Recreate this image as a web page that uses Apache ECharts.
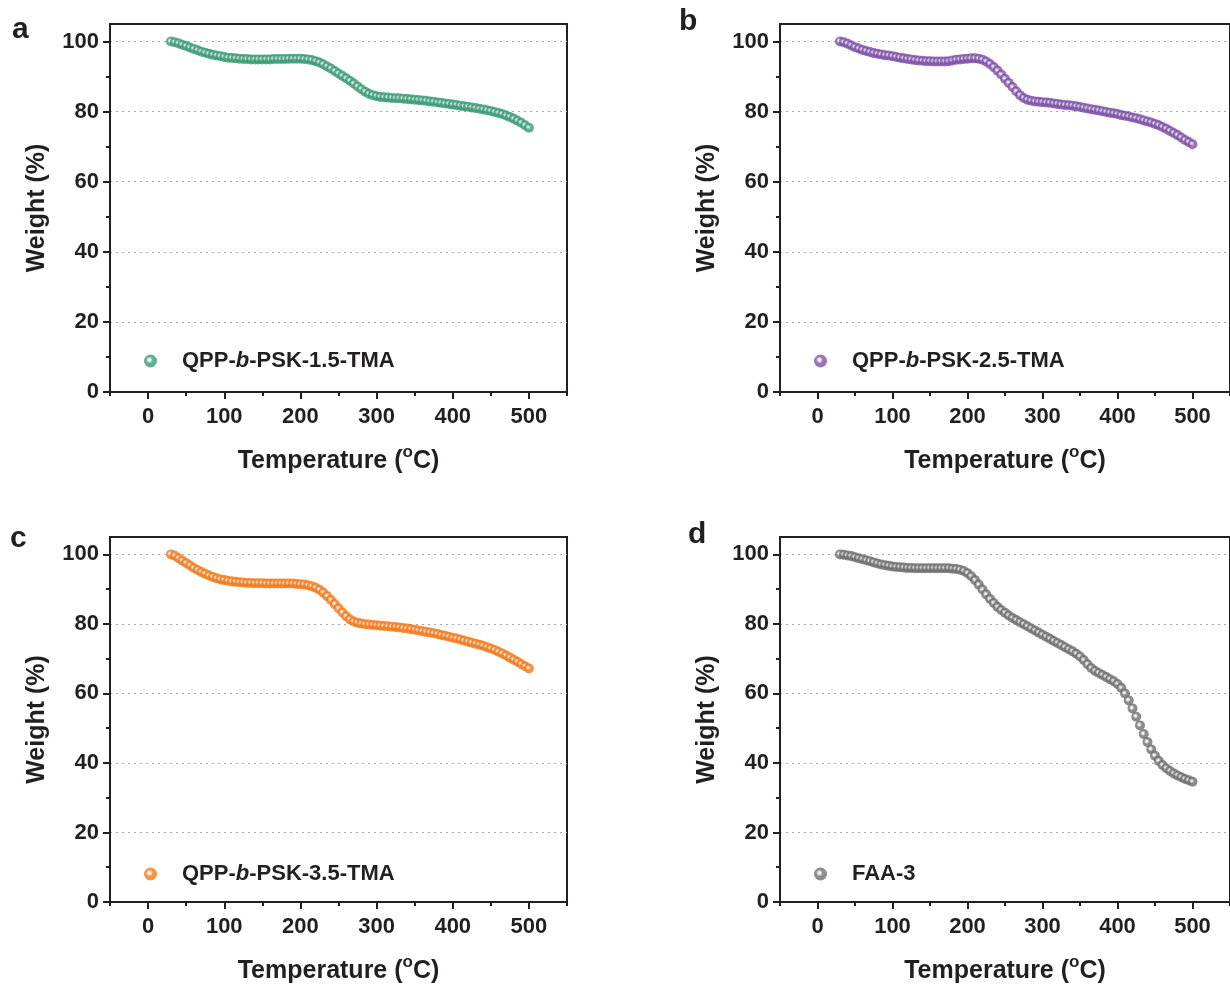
<!DOCTYPE html>
<html>
<head>
<meta charset="utf-8">
<script src="https://cdn.jsdelivr.net/npm/echarts@6/dist/echarts.min.js"></script>
<style>
  html, body { margin: 0; padding: 0; background: #fff; }
  #main { width: 1230px; height: 985px; }
</style>
</head>
<body>
<div id="main"></div>
<script>
// 温度 (°C)
const temps = [
  30, 35, 40, 45, 50, 55, 60, 65, 70, 75, 80, 85, 90, 95, 100, 105, 110, 115, 120, 125,
  130, 135, 140, 145, 150, 155, 160, 165, 170, 175, 180, 185, 190, 195, 200, 205, 210, 215, 220, 225,
  230, 235, 240, 245, 250, 255, 260, 265, 270, 275, 280, 285, 290, 295, 300, 305, 310, 315, 320, 325,
  330, 335, 340, 345, 350, 355, 360, 365, 370, 375, 380, 385, 390, 395, 400, 405, 410, 415, 420, 425,
  430, 435, 440, 445, 450, 455, 460, 465, 470, 475, 480, 485, 490, 495, 500
];

// QPP-b-PSK-1.5-TMA
const weightA = [
  100.0, 99.8, 99.5, 99.1, 98.7, 98.3, 97.9, 97.5, 97.1, 96.8, 96.5, 96.2, 96.0, 95.8, 95.6, 95.4, 95.3, 95.2, 95.1, 95.0,
  95.0, 94.9, 94.9, 94.9, 94.9, 94.9, 94.9, 95.0, 95.0, 95.0, 95.0, 95.1, 95.1, 95.1, 95.1, 95.0, 94.9, 94.7, 94.4, 94.0,
  93.5, 92.9, 92.3, 91.6, 90.9, 90.2, 89.5, 88.8, 88.0, 87.2, 86.4, 85.7, 85.1, 84.7, 84.4, 84.2, 84.1, 84.0, 83.9, 83.8,
  83.8, 83.7, 83.6, 83.5, 83.4, 83.3, 83.2, 83.1, 82.9, 82.8, 82.6, 82.5, 82.3, 82.2, 82.0, 81.9, 81.7, 81.5, 81.4, 81.2,
  81.0, 80.8, 80.6, 80.4, 80.2, 79.9, 79.6, 79.3, 78.9, 78.5, 78.0, 77.4, 76.8, 76.1, 75.4
];

// QPP-b-PSK-2.5-TMA
const weightB = [
  100.0, 99.8, 99.4, 98.9, 98.4, 98.0, 97.6, 97.3, 97.0, 96.7, 96.5, 96.3, 96.1, 96.0, 95.8, 95.6, 95.4, 95.2, 95.0, 94.9,
  94.7, 94.6, 94.5, 94.4, 94.4, 94.3, 94.3, 94.3, 94.3, 94.4, 94.6, 94.8, 94.9, 95.0, 95.1, 95.2, 95.2, 95.1, 94.8, 94.3,
  93.6, 92.7, 91.7, 90.6, 89.4, 88.2, 87.0, 85.8, 84.7, 83.9, 83.4, 83.1, 82.9, 82.8, 82.7, 82.6, 82.5, 82.3, 82.2, 82.0,
  81.9, 81.8, 81.7, 81.5, 81.3, 81.1, 80.9, 80.7, 80.5, 80.3, 80.1, 79.9, 79.7, 79.5, 79.3, 79.0, 78.8, 78.6, 78.3, 78.1,
  77.8, 77.5, 77.2, 76.9, 76.5, 76.1, 75.6, 75.1, 74.5, 73.9, 73.3, 72.6, 71.9, 71.3, 70.7
];

// QPP-b-PSK-3.5-TMA
const weightC = [
  100.0, 99.6, 98.9, 98.2, 97.5, 96.8, 96.1, 95.5, 94.9, 94.4, 93.9, 93.5, 93.1, 92.8, 92.6, 92.4, 92.2, 92.1, 92.0, 91.9,
  91.8, 91.8, 91.7, 91.7, 91.7, 91.6, 91.6, 91.6, 91.6, 91.6, 91.6, 91.6, 91.6, 91.5, 91.4, 91.3, 91.1, 90.8, 90.4, 89.8,
  89.0, 88.0, 86.9, 85.7, 84.5, 83.3, 82.2, 81.3, 80.7, 80.3, 80.1, 79.9, 79.8, 79.7, 79.6, 79.5, 79.4, 79.3, 79.2, 79.1,
  79.0, 78.8, 78.7, 78.5, 78.3, 78.1, 77.9, 77.7, 77.5, 77.3, 77.1, 76.8, 76.6, 76.3, 76.0, 75.8, 75.5, 75.2, 74.9, 74.6,
  74.3, 74.0, 73.7, 73.3, 72.9, 72.5, 72.0, 71.5, 70.9, 70.3, 69.7, 69.1, 68.4, 67.8, 67.2
];

// FAA-3
const weightD = [
  100.0, 99.9, 99.7, 99.5, 99.2, 98.9, 98.6, 98.3, 98.0, 97.7, 97.4, 97.1, 96.9, 96.7, 96.5, 96.4, 96.3, 96.2, 96.1, 96.1,
  96.0, 96.0, 96.0, 96.0, 96.0, 96.0, 96.0, 96.0, 96.0, 96.0, 95.9, 95.8, 95.6, 95.2, 94.6, 93.7, 92.6, 91.3, 89.9, 88.5,
  87.2, 86.0, 84.9, 84.0, 83.2, 82.4, 81.7, 81.1, 80.5, 79.9, 79.3, 78.7, 78.1, 77.5, 76.9, 76.3, 75.7, 75.1, 74.5, 73.9,
  73.3, 72.7, 72.1, 71.4, 70.6, 69.6, 68.4, 67.3, 66.5, 65.9, 65.3, 64.7, 64.1, 63.5, 62.7, 61.6, 60.0, 58.0, 55.7, 53.3,
  50.8, 48.3, 46.0, 43.9, 42.1, 40.6, 39.4, 38.5, 37.7, 37.0, 36.4, 35.9, 35.4, 35.0, 34.6
];

const seriesNames = ['QPP-b-PSK-1.5-TMA', 'QPP-b-PSK-2.5-TMA', 'QPP-b-PSK-3.5-TMA', 'FAA-3'];
const seriesColors = ['#3a9c77', '#7f52a8', '#f27a1a', '#6f6f6f'];
const seriesWeights = [weightA, weightB, weightC, weightD];
const panelLetters = ['a', 'b', 'c', 'd'];

const xMajor = [0, 100, 200, 300, 400, 500];
const xMinor = [-50, 50, 150, 250, 350, 450, 550];
const yMajor = [0, 20, 40, 60, 80, 100];
const yMinor = [10, 30, 50, 70, 90];

const FONT = '"Liberation Sans", Arial, Helvetica, sans-serif';
const INK = '#231f20';

// 四个面板的位置
const panels = [
  { left: 110, top: 24, lx: 12, ly: 15 },
  { left: 780, top: 24, lx: 679, ly: 7 },
  { left: 110, top: 537, lx: 10, ly: 524 },
  { left: 780, top: 537, lx: 688, ly: 520 }
];
const W = 457, H = 368;

var myChart = echarts.init(document.getElementById('main'), null, { renderer: 'canvas' });

function sphere(c) {
  return {
    type: 'radial', x: 0.42, y: 0.42, r: 0.6,
    colorStops: [
      { offset: 0, color: '#ffffff' },
      { offset: 0.15, color: '#f0f0f0' },
      { offset: 0.45, color: c },
      { offset: 1, color: c }
    ]
  };
}

var grids = [], xAxes = [], yAxes = [], series = [], legends = [], graphics = [];

panels.forEach(function (p, i) {
  grids.push({
    left: p.left, top: p.top, width: W, height: H,
    show: true, borderColor: INK, borderWidth: 2, backgroundColor: 'transparent'
  });

  // 主 x 轴
  xAxes.push({
    type: 'value', gridIndex: i, position: 'bottom', min: -50, max: 550, interval: 50,
    name: '{t|Temperature (}{s|o}{t|C)}', nameLocation: 'middle', nameGap: 52,
    nameTextStyle: {
      rich: {
        t: { fontFamily: FONT, fontWeight: 'bold', fontSize: 25, lineHeight: 30, color: INK, verticalAlign: 'bottom' },
        s: { fontFamily: FONT, fontWeight: 'bold', fontSize: 17, lineHeight: 17, color: INK, verticalAlign: 'top' }
      }
    },
    axisLine: { onZero: false, lineStyle: { color: INK, width: 2 } },
    axisTick: { show: true, inside: false, length: 7, customValues: xMajor, lineStyle: { color: INK, width: 2 } },
    axisLabel: { customValues: xMajor, margin: 14, fontFamily: FONT, fontWeight: 'bold', fontSize: 22, color: INK },
    splitLine: { show: false }
  });
  // 次刻度
  xAxes.push({
    type: 'value', gridIndex: i, position: 'bottom', min: -50, max: 550, interval: 50,
    axisLine: { show: false, onZero: false },
    axisTick: { show: true, inside: false, length: 4, customValues: xMinor, lineStyle: { color: INK, width: 2 } },
    axisLabel: { show: false },
    splitLine: { show: false }
  });

  yAxes.push({
    type: 'value', gridIndex: i, position: 'left', min: 0, max: 105, interval: 20,
    name: 'Weight (%)', nameLocation: 'middle', nameGap: 60,
    nameTextStyle: { fontFamily: FONT, fontWeight: 'bold', fontSize: 25, color: INK },
    axisLine: { onZero: false, lineStyle: { color: INK, width: 2 } },
    axisTick: { show: true, inside: false, length: 7, customValues: yMajor, lineStyle: { color: INK, width: 2 } },
    axisLabel: { customValues: yMajor, margin: 11, fontFamily: FONT, fontWeight: 'bold', fontSize: 22, color: INK },
    splitLine: { show: true, lineStyle: { color: '#a8a8a8', width: 1, type: [2, 4] } }
  });
  yAxes.push({
    type: 'value', gridIndex: i, position: 'left', min: 0, max: 105, interval: 20,
    axisLine: { show: false, onZero: false },
    axisTick: { show: true, inside: false, length: 4, customValues: yMinor, lineStyle: { color: INK, width: 2 } },
    axisLabel: { show: false },
    splitLine: { show: false }
  });

  const w = seriesWeights[i];
  series.push({
    name: seriesNames[i],
    type: 'scatter',
    xAxisIndex: i * 2,
    yAxisIndex: i * 2,
    symbol: 'circle',
    symbolSize: 10,
    itemStyle: { color: sphere(seriesColors[i]) },
    data: temps.map(function (t, k) { return [t, w[k]]; })
  });

  legends.push({
    data: [seriesNames[i]],
    left: p.left + 34,
    top: p.top + 326,
    padding: 0,
    icon: 'circle',
    itemWidth: 13,
    itemHeight: 13,
    selectedMode: false,
    formatter: function (name) {
      return name.replace('-b-', '-{i|b}-');
    },
    textStyle: {
      fontFamily: FONT, fontWeight: 'bold', fontSize: 22, color: INK,
      padding: [0, 0, 0, 20],
      rich: { i: { fontFamily: FONT, fontWeight: 'bold', fontStyle: 'italic', fontSize: 22, color: INK } }
    }
  });

  graphics.push({
    type: 'text', left: p.lx, top: p.ly,
    style: { text: panelLetters[i], font: 'bold 30px ' + FONT, fill: INK }
  });
});

option = {
  backgroundColor: '#ffffff',
  animation: false,
  grid: grids,
  xAxis: xAxes,
  yAxis: yAxes,
  legend: legends,
  graphic: graphics,
  series: series
};
myChart.setOption(option, true);
</script>
</body>
</html>
